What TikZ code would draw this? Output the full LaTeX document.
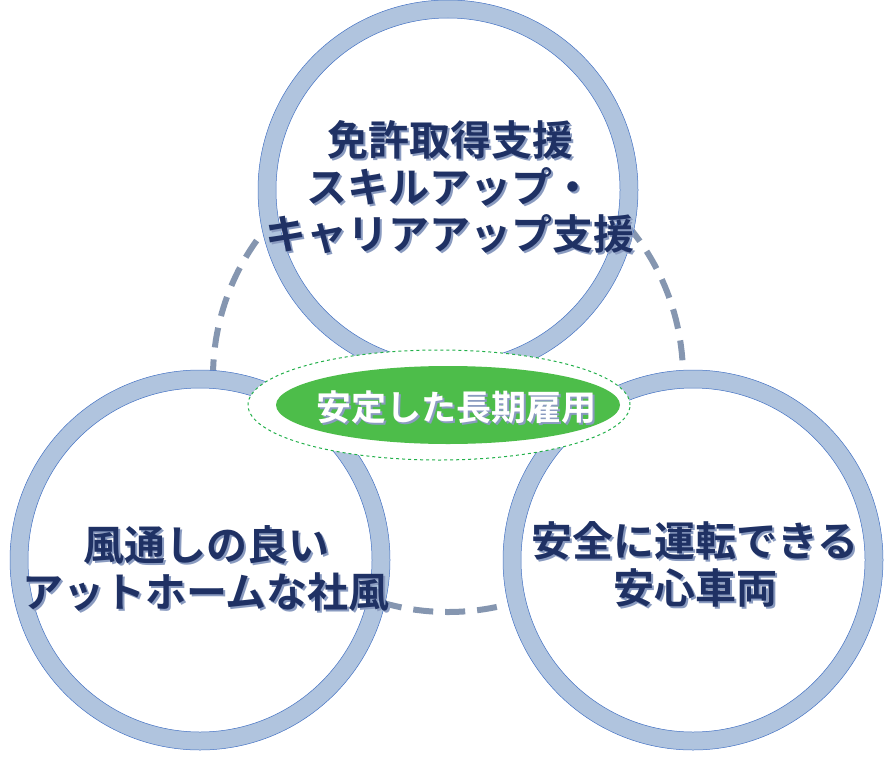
\documentclass[tikz,border=0pt]{standalone}
\usetikzlibrary{shapes.geometric}
\usepackage{fontspec}
\newfontfamily\jp{Noto Sans CJK JP}[BoldFont={* Bold}]
\definecolor{ring}{HTML}{B0C4DE}
\definecolor{ringedge}{HTML}{4472C4}
\definecolor{dashcol}{HTML}{8596B0}
\definecolor{navy}{HTML}{1F3164}
\definecolor{shad}{HTML}{8A9BC0}
\definecolor{grn}{HTML}{4DBD4A}
\definecolor{gdash}{HTML}{22B04A}
\tikzset{
  ringc/.style={draw=ring,line width=18pt,fill=white},
  edgec/.style={draw=ringedge,line width=0.5pt},
  lbl/.style={font=\jp\bfseries\fontsize{41}{47}\selectfont,align=center,text=navy,inner sep=0},
  lblshadow/.style={lbl,text=shad},
  clbl/.style={font=\jp\bfseries\fontsize{35}{35}\selectfont,inner sep=0},
}
\begin{document}
\begin{tikzpicture}[x=1pt,y=-1pt]
\useasboundingbox (0,0) rectangle (893,768);
\draw[draw=dashcol,line width=6pt,dash pattern=on 20pt off 12pt] (448,377) circle (235);
\foreach \n/\cx/\cy in {t/448/190,l/200/560,r/693/560}{
  \draw[ringc] (\cx,\cy) circle (181);
  \draw[edgec] (\cx,\cy) circle (190);
  \draw[edgec] (\cx,\cy) circle (172);
  \coordinate (\n) at (\cx,\cy);
}
\node[draw=gdash,line width=1pt,dashed,fill=white,ellipse,minimum width=382,minimum height=110,inner sep=0] (outer) at (439,405) {};
\node[fill=grn,ellipse,minimum width=344,minimum height=78,inner sep=0] (core) at (448,405) {};
% shadows
\node[lblshadow] at (452,189) {免許取得支援\\スキルアップ・\\キャリアアップ支援};
\node[lblshadow] at (208,570) {風通しの良い\\アットホームな社風};
\node[lblshadow] at (697,566) {安全に運転できる\\安心車両};
\node[clbl,text=shad] at (458,409) {安定した長期雇用};
% main
\node[lbl] (tt) at (450,187) {免許取得支援\\スキルアップ・\\キャリアアップ支援};
\node[lbl] (lt) at (206,568) {風通しの良い\\アットホームな社風};
\node[lbl] (rt) at (695,564) {安全に運転できる\\安心車両};
\node[clbl,text=white] (ct) at (456,407) {安定した長期雇用};
\end{tikzpicture}
\end{document}
